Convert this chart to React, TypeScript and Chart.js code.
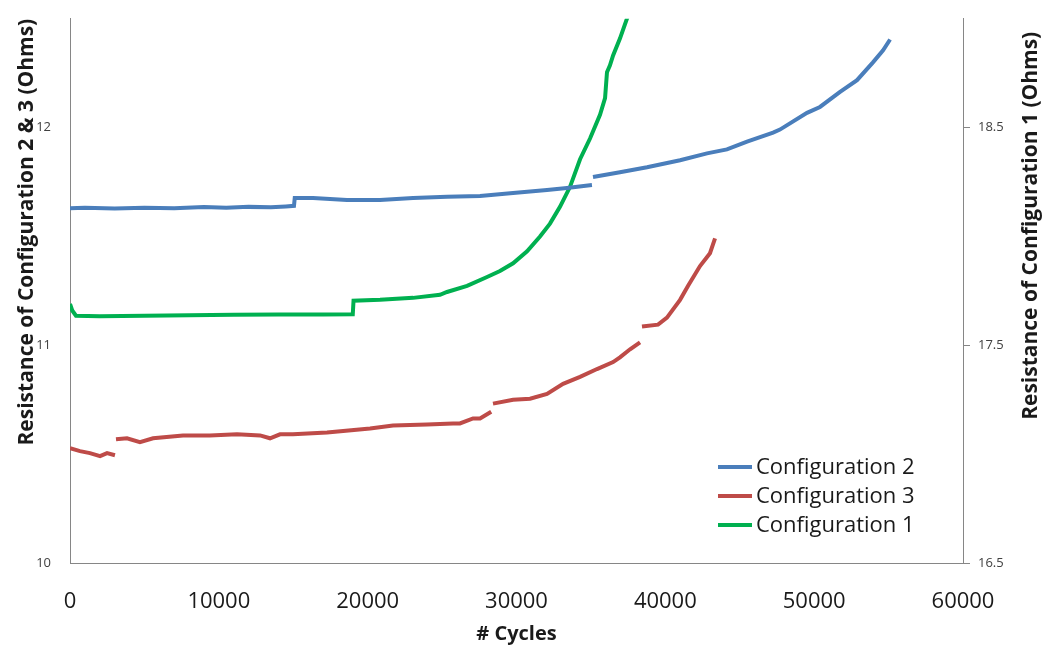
import React, { useEffect, useRef } from "react";
import { Chart, registerables } from "chart.js";

Chart.register(...registerables);

// ---- Data ----
const xTicks = [0, 10000, 20000, 30000, 40000, 50000, 60000];
const leftTicks = [10, 11, 12];
const rightTicks = [16.5, 17.5, 18.5];
const leftTitle = "Resistance of Configuration 2 & 3 (Ohms)";
const rightTitle = "Resistance of Configuration 1 (Ohms)";
const xTitle = "# Cycles";

// Configuration 2 (left axis)
const cfg2Cycles = [0, 1000, 3000, 5000, 7000, 9000, 10500, 12000, 13500, 14500, 15050, 15100, 16330, 18610, 20830, 23050, 25330, 27550, 29770, 32050, 33390, 35070, 35100, 35140, 36950, 38770, 40990, 42800, 44140, 45490, 47240, 47700, 49520, 50390, 51740, 52880, 53950, 54630, 55100];
const cfg2Ohms = [11.63, 11.632, 11.628, 11.632, 11.63, 11.635, 11.632, 11.636, 11.634, 11.638, 11.641, 11.677, 11.677, 11.668, 11.668, 11.677, 11.682, 11.686, 11.7, 11.714, 11.723, 11.736, null, 11.773, 11.795, 11.818, 11.85, 11.882, 11.9, 11.936, 11.977, 11.991, 12.068, 12.095, 12.164, 12.218, 12.3, 12.355, 12.405];

// Configuration 3 (left axis)
const cfg3Cycles = [0, 670, 1340, 2020, 2490, 3020, 3050, 3090, 3830, 4700, 5580, 7590, 9400, 11220, 12770, 13440, 14110, 14980, 17270, 20160, 21700, 23990, 25730, 26200, 27080, 27550, 28300, 28350, 28420, 29770, 30910, 32050, 33130, 34270, 35410, 36490, 36950, 37630, 38300, 38400, 38430, 39510, 40110, 40990, 41520, 42330, 43000, 43340];
const cfg3Ohms = [10.527, 10.514, 10.505, 10.491, 10.505, 10.495, null, 10.568, 10.573, 10.555, 10.573, 10.586, 10.586, 10.591, 10.586, 10.573, 10.591, 10.591, 10.6, 10.618, 10.632, 10.636, 10.641, 10.641, 10.664, 10.664, 10.695, null, 10.732, 10.75, 10.755, 10.777, 10.823, 10.855, 10.891, 10.923, 10.945, 10.982, 11.014, null, 11.086, 11.095, 11.127, 11.209, 11.273, 11.364, 11.423, 11.491];

// Configuration 1 (right axis)
const cfg1Cycles = [0, 150, 400, 2000, 5000, 8000, 11000, 14000, 17000, 19000, 19050, 20830, 23050, 24860, 25330, 26680, 28020, 28890, 29770, 30710, 31580, 32250, 32920, 33590, 34270, 34940, 35610, 35950, 36080, 36280, 36490, 36950, 37490];
const cfg1Ohms = [17.69, 17.66, 17.636, 17.634, 17.636, 17.638, 17.64, 17.642, 17.642, 17.643, 17.705, 17.709, 17.718, 17.732, 17.745, 17.773, 17.814, 17.841, 17.877, 17.932, 18.0, 18.059, 18.136, 18.227, 18.355, 18.45, 18.559, 18.636, 18.755, 18.786, 18.832, 18.909, 19.014];

const COLORS = {
  cfg2: "#4A7EBB",
  cfg3: "#BE4B48",
  cfg1: "#00B050",
};

const FONT = "'Open Sans', 'DejaVu Sans', sans-serif";

const toPoints = (xs: number[], ys: (number | null)[]) =>
  xs.map((x, i) => ({ x, y: ys[i] }));

const insideLegend = {
  id: "insideLegend",
  afterDatasetsDraw(chart: any) {
    const { ctx, chartArea } = chart;
    const datasets = chart.data.datasets;
    const rowH = 29;
    const x0 = chartArea.right - 245;
    let y = chartArea.bottom - 96;
    ctx.save();
    ctx.font = `22px ${FONT}`;
    ctx.textBaseline = "middle";
    ctx.textAlign = "left";
    datasets.forEach((ds: any) => {
      ctx.strokeStyle = ds.borderColor;
      ctx.lineWidth = 4;
      ctx.beginPath();
      ctx.moveTo(x0, y);
      ctx.lineTo(x0 + 34, y);
      ctx.stroke();
      ctx.fillStyle = "#1a1a1a";
      ctx.fillText(ds.label, x0 + 38, y + 1);
      y += rowH;
    });
    ctx.restore();
  },
};

// Right-axis title reads bottom-to-top in the reference (like the left one)
const rightAxisTitle = {
  id: "rightAxisTitle",
  afterDraw(chart: any) {
    const { ctx, chartArea } = chart;
    const scale = chart.scales.y1;
    ctx.save();
    ctx.translate(scale.right - 13, chartArea.top + 13);
    ctx.rotate(-Math.PI / 2);
    ctx.font = `bold 21px ${FONT}`;
    ctx.fillStyle = "#1a1a1a";
    ctx.textAlign = "right";
    ctx.textBaseline = "middle";
    ctx.fillText(rightTitle, 0, 0);
    ctx.restore();
  },
};

export default function App() {
  const canvasRef = useRef<HTMLCanvasElement | null>(null);

  useEffect(() => {
    if (!canvasRef.current) return;
    const chart = new Chart(canvasRef.current, {
      type: "line",
      data: {
        datasets: [
          {
            label: "Configuration 2",
            data: toPoints(cfg2Cycles, cfg2Ohms),
            borderColor: COLORS.cfg2,
            backgroundColor: COLORS.cfg2,
            borderWidth: 4,
            pointRadius: 0,
            yAxisID: "y",
            spanGaps: false,
          },
          {
            label: "Configuration 3",
            data: toPoints(cfg3Cycles, cfg3Ohms),
            borderColor: COLORS.cfg3,
            backgroundColor: COLORS.cfg3,
            borderWidth: 4,
            pointRadius: 0,
            yAxisID: "y",
            spanGaps: false,
          },
          {
            label: "Configuration 1",
            data: toPoints(cfg1Cycles, cfg1Ohms),
            borderColor: COLORS.cfg1,
            backgroundColor: COLORS.cfg1,
            borderWidth: 4,
            pointRadius: 0,
            yAxisID: "y1",
            spanGaps: false,
          },
        ],
      },
      options: {
        animation: false,
        responsive: false,
        maintainAspectRatio: false,
        layout: { padding: { top: 10, left: 0, right: 0, bottom: 0 } },
        plugins: {
          legend: { display: false },
          tooltip: { enabled: false },
        },
        scales: {
          x: {
            type: "linear",
            min: 0,
            max: 60000,
            afterBuildTicks: (scale: any) => {
              scale.ticks = xTicks.map((v) => ({ value: v }));
            },
            afterFit: (scale: any) => {
              scale.height = 85;
            },
            grid: { display: false, drawTicks: false },
            border: { display: true, color: "#868686", width: 1 },
            ticks: {
              padding: 26,
              color: "#1a1a1a",
              font: { family: FONT, size: 22 },
              maxRotation: 0,
              callback: (v: any) => String(v),
            },
            title: {
              display: true,
              text: xTitle,
              color: "#1a1a1a",
              font: { family: FONT, size: 20, weight: "bold" },
              padding: { top: 0, bottom: 2 },
            },
          },
          y: {
            type: "linear",
            position: "left",
            min: 10,
            max: 12.5,
            afterBuildTicks: (scale: any) => {
              scale.ticks = leftTicks.map((v) => ({ value: v }));
            },
            afterFit: (scale: any) => {
              scale.width = 70;
            },
            grid: { display: false },
            border: { display: true, color: "#868686", width: 1 },
            ticks: {
              padding: 11,
              color: "#404040",
              font: { family: FONT, size: 13 },
              callback: (v: any) => String(v),
            },
            title: {
              display: true,
              text: leftTitle,
              align: "end",
              color: "#1a1a1a",
              font: { family: FONT, size: 21, weight: "bold" },
              padding: { top: 14, bottom: 0 },
            },
          },
          y1: {
            type: "linear",
            position: "right",
            min: 16.5,
            max: 19,
            afterBuildTicks: (scale: any) => {
              scale.ticks = rightTicks.map((v) => ({ value: v }));
            },
            afterFit: (scale: any) => {
              scale.width = 81;
            },
            grid: {
              display: true,
              drawOnChartArea: false,
              drawTicks: true,
              tickLength: 7,
              color: "#868686",
            },
            border: { display: true, color: "#868686", width: 1 },
            ticks: {
              padding: 8,
              color: "#404040",
              font: { family: FONT, size: 13 },
              callback: (v: any) => String(v),
            },
            title: { display: false },
          },
        },
      },
      plugins: [insideLegend, rightAxisTitle],
    } as any);
    return () => chart.destroy();
  }, []);

  return (
    <div style={{ position: "fixed", left: 0, top: 0, width: 1044, height: 648, background: "#fff" }}>
      <canvas ref={canvasRef} width={1044} height={648} style={{ width: 1044, height: 648 }} />
    </div>
  );
}
